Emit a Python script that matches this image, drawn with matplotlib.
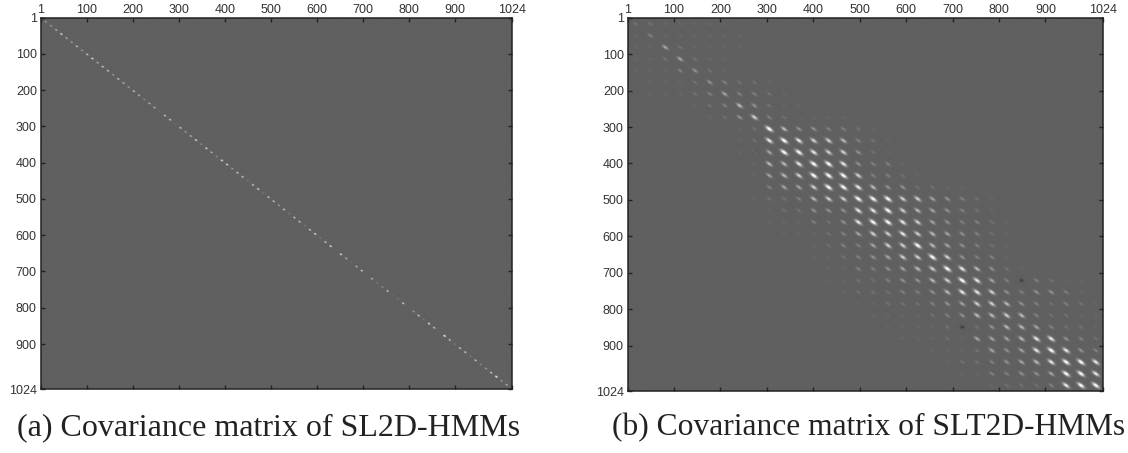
import numpy as np
import matplotlib
matplotlib.use("Agg")
import matplotlib.pyplot as plt

TICKS = [1, 100, 200, 300, 400, 500, 600, 700, 800, 900, 1024]
CAPTION_A = "(a) Covariance matrix of SL2D-HMMs"
CAPTION_B = "(b) Covariance matrix of SLT2D-HMMs"
MATRIX_SIZE = 1024

# left panel: strength (0-9) of each dot met along the main diagonal
DIAG_AMPS = [4,4,5,7,5,4,6,4,6,7,5,6,6,4,6,5,4,6,5,3,5,5,1,6,6,1,6,4,5,7,
             3,7,5,3,7,7,4,6,6,2,6,7,2,6,6,4,6,2,6,6,2,6,7,2,6,7,1,7,5,1,
             5,6,0,5,2,3,6,1,2,6,0,4,6,2,7,6,1,9,6,2,6,6,2,6,3,4,6,9,4,5]

# right panel: strength (0-9) of the spot in each 32x32 block, row by row
SPOT_ROWS = [
    "2211111",
    "13111111",
    "11521111",
    "1125211",
    "11134210",
    "0111243221",
    "01112353321",
    "000012364211",
    "000001247322111",
    "00000001296443321",
    "000000012898776321",
    "000000012599877421",
    "0000000016689984331",
    "00000000156799973321",
    "00000000035579986442211",
    "0000000012236779997754321",
    "0000000001224448897654321",
    "00000000011132489987543321",
    "00000000001112357787654321",
    "00000000000012335779654321",
    "00000000000011234577974331",
    "000000000000011334567986421",
    "0000000000000112234467985303211",
    "0000000000000012223346887434431",
    "00000000000000011222345776432321",
    "00000000000000001111234667632211",
    "00000000000000000111120246653221",
    "00000000000000000011121555688432",
    "00000000000000000000111254589843",
    "00000000000000000000012234568998",
    "00000000000000000000001133445998",
    "00000000000000000000000012223899",
]
# dark (negative) spots as (row block, column block, strength)
DARK_SPOTS = [(22, 26, 4), (26, 22, 4), (8, 11, 2), (11, 8, 2)]

BG = 0.375
SIZE_W, SIZE_H = 1128, 453


def add_streak(img, r, c, peak, su, sv):
    rad = int(4 * su) + 2
    r0, r1 = max(0, int(r) - rad), min(MATRIX_SIZE, int(r) + rad + 1)
    c0, c1 = max(0, int(c) - rad), min(MATRIX_SIZE, int(c) + rad + 1)
    yy, xx = np.mgrid[r0:r1, c0:c1]
    u = ((xx - c) + (yy - r)) / np.sqrt(2)
    v = ((xx - c) - (yy - r)) / np.sqrt(2)
    img[r0:r1, c0:c1] += peak * np.exp(-0.5 * (u / su) ** 2 - 0.5 * (v / sv) ** 2)


diag = np.full((MATRIX_SIZE, MATRIX_SIZE), BG)
step = (1012 - 10) / (len(DIAG_AMPS) - 1)
for k, a in enumerate(DIAG_AMPS):
    p = 10 + k * step
    add_streak(diag, p, p, 1.6 * (a / 9) ** 1.3 * (1 - BG), 1.8, 1.2)

spots = np.full((MATRIX_SIZE, MATRIX_SIZE), BG)
block = MATRIX_SIZE / 32
for r, row in enumerate(SPOT_ROWS):
    row = row.ljust(32, "0")
    for c, ch in enumerate(row):
        a = int(ch)
        if a:
            w = 0.6 + 0.4 * a / 9
            add_streak(spots, (r + .5) * block, (c + .5) * block,
                       1.15 * (a / 9) ** 1.35 * (1 - BG), 6.5 * w, 2.7 * w)
for r, c, a in DARK_SPOTS:
    add_streak(spots, (r + .5) * block, (c + .5) * block, -a / 9 * BG, 3.0, 2.5)

plt.rcParams["font.family"] = ["Liberation Sans", "DejaVu Sans"]
fig = plt.figure(figsize=(SIZE_W / 100, SIZE_H / 100), dpi=100, facecolor="white")


def panel(img, box, caption, cap_x, cap_size):
    x0, x1, y0, y1 = box
    ax = fig.add_axes([x0 / SIZE_W, 1 - y1 / SIZE_H, (x1 - x0) / SIZE_W, (y1 - y0) / SIZE_H])
    ax.imshow(img, cmap="gray", vmin=0, vmax=1, aspect="auto",
              extent=(1, MATRIX_SIZE, MATRIX_SIZE, 1),
              interpolation="hanning", interpolation_stage="rgba")
    ax.set_xticks(TICKS)
    ax.set_yticks(TICKS)
    ax.set_xticklabels([str(t) for t in TICKS])
    ax.set_yticklabels([str(t) for t in TICKS])
    ax.tick_params(axis="both", direction="in", length=3.2, width=1.0, color="#222222",
                   top=True, right=True, bottom=True, left=True,
                   labeltop=True, labelbottom=False, labelleft=True, labelright=False,
                   labelsize=9, labelcolor="#333333", pad=3)
    ax.tick_params(axis="x", pad=1.4)
    for s in ax.spines.values():
        s.set_color("#222222")
        s.set_linewidth(1.1)
    fig.text(cap_x / SIZE_W, 1 - 428 / SIZE_H, caption, family="Liberation Serif",
             fontsize=cap_size, color="#222222", ha="center", va="center")


panel(diag, (41, 512, 18, 389), CAPTION_A, 268.5, 23)
panel(spots, (628, 1103, 18, 391), CAPTION_B, 869, 22.7)
fig.savefig("out.png", dpi=100)
